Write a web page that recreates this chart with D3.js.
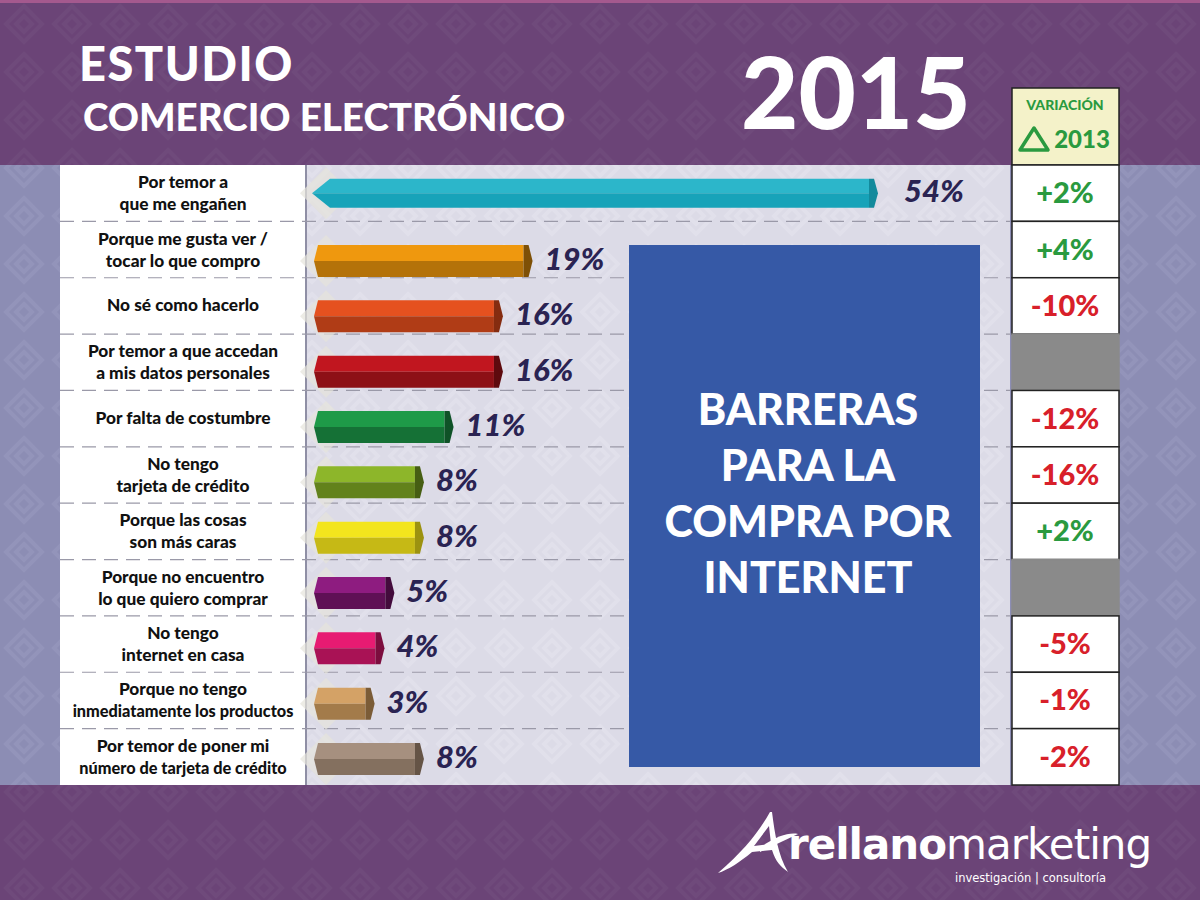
<!DOCTYPE html>
<meta charset='utf-8'>
<style>
	body { margin: 0; width: 1200px; height: 900px; overflow: hidden; }
	svg { display: block; }
	.lbl { font-family: Lato, 'Open Sans', sans-serif; font-weight: 900; fill: #111; text-anchor: middle; }
	.val { font-family: Lato, sans-serif; font-weight: 900; font-style: italic; fill: #2a2352; }
	.var { font-family: Lato, sans-serif; font-weight: 900; text-anchor: middle; }
	.title { font-family: Lato, sans-serif; font-weight: 900; fill: #fff; }
</style>
<body>
<script src='https://cdn.jsdelivr.net/npm/d3@7'></script>
<script>
	// data
	var reasons = [
		['Por temor a', 'que me engañen'],
		['Porque me gusta ver /', 'tocar lo que compro'],
		['No sé como hacerlo'],
		['Por temor a que accedan', 'a mis datos personales'],
		['Por falta de costumbre'],
		['No tengo', 'tarjeta de crédito'],
		['Porque las cosas', 'son más caras'],
		['Porque no encuentro', 'lo que quiero comprar'],
		['No tengo', 'internet en casa'],
		['Porque no tengo', 'inmediatamente los productos'],
		['Por temor de poner mi', 'número de tarjeta de crédito']
	];
	var values = [54, 19, 16, 16, 11, 8, 8, 5, 4, 3, 8];
	var variation = [2, 4, -10, null, -12, -16, 2, null, -5, -1, -2];
	var topColors = ['#2cb6ca', '#ef980e', '#e5511f', '#c1161f', '#1e9a48', '#8db62a', '#f3e51d', '#8e1c80', '#e71b72', '#d4a266', '#a6907f'];
	var bottomColors = ['#17a3b9', '#b47209', '#b03c16', '#8d1016', '#157136', '#62821b', '#c6b915', '#5f1055', '#a91255', '#a37b4a', '#84705f'];
	var capColors = ['#138a9c', '#7e5006', '#852c10', '#5e0a0e', '#0f5227', '#465e13', '#9c9210', '#430b3c', '#7c0d3e', '#7b5c37', '#655446'];
	var boxLines = ['BARRERAS', 'PARA LA', 'COMPRA POR', 'INTERNET'];

	var W = 1200, H = 900;
	var svg = d3.select('body').append('svg').attr('width', W).attr('height', H);
	var defs = svg.append('defs');

	// faint pattern for the backgrounds
	function pattern(id, bg, fg) {
		var p = defs.append('pattern').attr('id', id).attr('width', 48).attr('height', 48)
			.attr('patternUnits', 'userSpaceOnUse');
		p.append('rect').attr('width', 48).attr('height', 48).attr('fill', bg);
		p.append('path').attr('d', 'M24 6 L42 24 L24 42 L6 24 Z M24 16 L32 24 L24 32 L16 24 Z')
			.attr('fill', 'none').attr('stroke', fg).attr('stroke-width', 4);
	}
	pattern('purp', '#6b4477', '#6f4a7b');
	pattern('lav', '#8c8db4', '#9394ba');
	pattern('pan', '#dcdbe7', '#e1e0eb');

	var rowTop = 165, rowBot = 785;
	var y = d3.scaleBand().domain(d3.range(values.length)).range([rowTop, rowBot]);
	// bars below the first one sit a little low in their rows
	var yBar = d3.scaleLinear().domain([1, values.length - 1]).range([261, 759]);
	function barY(i) { return i === 0 ? y(0) + y.bandwidth() / 2 : yBar(i); }
	var x = d3.scaleLinear().domain([0, 54]).range([345, 878]);
	var x0 = 318;

	// backgrounds
	svg.append('rect').attr('width', W).attr('height', H).attr('fill', 'url(#lav)');
	svg.append('rect').attr('width', W).attr('height', rowTop).attr('fill', 'url(#purp)');
	svg.append('rect').attr('width', W).attr('height', 3).attr('fill', '#a4598e');
	svg.append('rect').attr('y', rowBot).attr('width', W).attr('height', H - rowBot).attr('fill', 'url(#purp)');
	svg.append('rect').attr('x', 305).attr('y', rowTop).attr('width', 705).attr('height', rowBot - rowTop).attr('fill', 'url(#pan)');
	svg.append('rect').attr('x', 60).attr('y', rowTop).attr('width', 245).attr('height', rowBot - rowTop).attr('fill', '#fff');
	svg.append('line').attr('x1', 306).attr('x2', 306).attr('y1', rowTop).attr('y2', rowBot)
		.attr('stroke', '#8f8fa5').attr('stroke-width', 2);

	// title
	svg.append('text').attr('class', 'title').attr('x', 79).attr('y', 81).attr('font-size', 47)
		.attr('letter-spacing', 1.5).text('ESTUDIO');
	svg.append('text').attr('class', 'title').attr('x', 83).attr('y', 131).attr('font-size', 38.5)
		.text('COMERCIO ELECTRÓNICO');
	svg.append('text').attr('class', 'title').attr('x', 741).attr('y', 129).attr('font-size', 99).text('2015');

	// row separators
	svg.selectAll('line.sep').data(d3.range(1, values.length)).enter().append('line')
		.attr('x1', 60).attr('x2', 1010)
		.attr('y1', function (i) { return y(i); }).attr('y2', function (i) { return y(i); })
		.attr('stroke', '#9a99a8').attr('stroke-width', 1.2).attr('stroke-dasharray', '14,8');

	// labels
	var lbl = svg.selectAll('text.lbl').data(reasons).enter().append('text').attr('class', 'lbl')
		.attr('y', function (d, i) { return y(i) + y.bandwidth() / 2 + (d.length === 1 ? 5 : -5); });
	lbl.selectAll('tspan').data(function (d) { return d; }).enter().append('tspan')
		.attr('x', 183).attr('dy', function (d, j) { return j ? 22 : 0; })
		.attr('font-size', function (d) { return d.length > 25 ? 16.3 : 17.3; })
		.text(function (d) { return d; });

	// bars
	var bars = svg.selectAll('g.bar').data(values).enter().append('g')
		.attr('transform', function (d, i) { return 'translate(0,' + barY(i) + ')'; });

	bars.append('path').attr('fill', '#e6e4dc').attr('opacity', 0.7)
		.attr('d', 'M326 -26 L352 0 L326 26 L300 0 Z');
	function half(sign) {
		return function (d, i) {
			var h = (i === 0 ? 14.5 : 16) * sign;
			var l = i === 0 ? 330 : x0, tip = i === 0 ? 312 : x0 - 4, e = x(d) - 9;
			return 'M' + tip + ' 0 L' + l + ' ' + h + ' L' + e + ' ' + h + ' L' + e + ' 0 Z';
		};
	}
	bars.append('path').attr('fill', function (d, i) { return topColors[i]; }).attr('d', half(-1));
	bars.append('path').attr('fill', function (d, i) { return bottomColors[i]; }).attr('d', half(1));
	bars.append('path').attr('fill', function (d, i) { return capColors[i]; })
		.attr('d', function (d, i) {
			var e = x(d), h = i === 0 ? 14.5 : 16;
			return 'M' + (e - 9) + ' ' + (-h) + ' L' + (e - 4) + ' ' + (-h) + ' L' + e + ' 0 L' +
				(e - 4) + ' ' + h + ' L' + (e - 9) + ' ' + h + ' Z';
		});
	bars.append('text').attr('class', 'val').attr('font-size', 31)
		.attr('x', function (d, i) { return x(d) + (i === 0 ? 26 : 12); }).attr('y', 9)
		.text(function (d) { return d + '%'; });

	// blue box
	svg.append('rect').attr('x', 629).attr('y', 245).attr('width', 351).attr('height', 522).attr('fill', '#3659a6');
	var box = svg.append('text').attr('class', 'title').attr('text-anchor', 'middle').attr('font-size', 43);
	box.selectAll('tspan').data(boxLines).enter().append('tspan')
		.attr('x', 808).attr('y', function (d, i) { return 425 + i * 56; }).text(function (d) { return d; });

	// variation column
	svg.append('rect').attr('x', 1012).attr('y', 88).attr('width', 107).attr('height', rowTop - 88)
		.attr('fill', '#f4f2c9').attr('stroke', '#222').attr('stroke-width', 1.5);
	svg.append('text').attr('class', 'var').attr('x', 1065).attr('y', 110).attr('font-size', 14)
		.attr('fill', '#2a9a3f').text('VARIACIÓN');
	svg.append('path').attr('d', 'M1034 128 L1048 150 L1020 150 Z').attr('fill', 'none')
		.attr('stroke', '#2a9a3f').attr('stroke-width', 3.5).attr('stroke-linejoin', 'round');
	svg.append('text').attr('class', 'var').attr('x', 1082).attr('y', 148).attr('font-size', 24)
		.attr('fill', '#2a9a3f').text('2013');

	var cells = svg.selectAll('g.cell').data(variation).enter().append('g');
	cells.append('rect').attr('x', 1012).attr('width', 107)
		.attr('y', function (d, i) { return y(i); }).attr('height', y.bandwidth())
		.attr('fill', function (d) { return d === null ? '#8a8a8a' : '#fff'; })
		.attr('stroke', function (d) { return d === null ? '#8a8a8a' : '#222'; }).attr('stroke-width', 1.5);
	cells.append('text').attr('class', 'var').attr('x', 1065).attr('font-size', 29)
		.attr('y', function (d, i) { return y(i) + y.bandwidth() / 2 + 10; })
		.attr('fill', function (d) { return d > 0 ? '#2a9a3f' : '#d8202a'; })
		.text(function (d) { return d === null ? '' : (d > 0 ? '+' : '') + d + '%'; });

	// logo
	var logo = svg.append('g');
	logo.append('path').attr('fill', '#fff')
		.attr('d', 'M718 873 C745 850 760 830 770 812 L772 812 C775 835 778 855 788 872 C780 866 776 862 772 850 L752 852 C740 862 728 870 718 873 Z M754 846 L771 844 L769 826 Z');
	logo.append('path').attr('fill', '#fff').attr('d', 'M760 848 C775 836 790 832 798 834 L760 852 Z');
	var lt = logo.append('text').attr('x', 788).attr('y', 859).attr('fill', '#fff')
		.attr('font-family', "'DejaVu Sans', sans-serif").attr('font-size', 42);
	lt.append('tspan').attr('font-weight', 'bold').attr('letter-spacing', -1).text('rellano');
	lt.append('tspan').attr('font-weight', 'normal').attr('letter-spacing', -1).text('marketing');
	logo.append('text').attr('x', 955).attr('y', 882).attr('fill', '#fff')
		.attr('font-family', "'DejaVu Sans', sans-serif").attr('font-size', 11.5).text('investigación | consultoría');
</script>
